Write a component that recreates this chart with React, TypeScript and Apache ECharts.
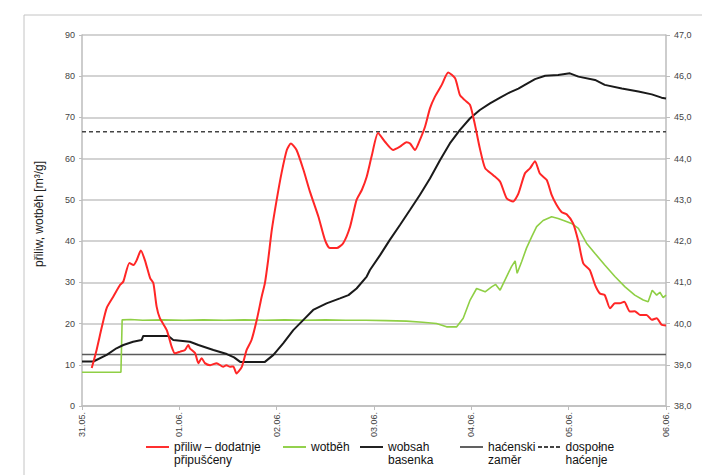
import React, { useEffect, useRef } from "react";
import * as echarts from "echarts";

// x values are hours from 31.05. 00:00 (0..144)
const dayLabels = ["31.05.", "01.06.", "02.06.", "03.06.", "04.06.", "05.06.", "06.06."];

const seriesNames = [
  "přiliw – dodatnje\npřipušćeny",
  "wotběh",
  "wobsah\nbasenka",
  "haćenski\nzaměr",
  "dospołne\nhaćenje",
];

const yAxisTitle = "přiliw, wotběh [m³/g]";

// left axis [m³/g]
const priliw: [number, number][] = [
  [2.4, 9.2], [3.6, 13.6], [4.9, 19.2], [6.1, 23.8], [7.7, 26.5], [9.4, 29.4], [10.2, 30.2],
  [11.7, 34.7], [12.7, 34.2], [13.5, 35.4], [14.5, 37.7], [15.5, 35.4], [16.8, 31], [17.6, 29.8],
  [18.4, 24.1], [19.2, 21.3], [20.9, 18.4], [22.1, 14.4], [22.9, 12.8], [24.2, 13.2], [25.4, 13.6],
  [26.2, 14.8], [26.6, 14], [27.9, 12.8], [28.7, 10.4], [29.5, 11.6], [30.3, 10.4], [31.6, 9.9],
  [33.2, 10.4], [34.8, 9.5], [35.6, 9.9], [36.5, 9.5], [37.3, 9.6], [38.1, 7.9], [39.4, 9.5],
  [40.6, 13.6], [41.8, 16], [43.1, 20.9], [44.3, 26.5], [45.1, 29.8], [45.9, 35.4], [46.8, 42.7],
  [48, 50], [49.2, 56.5], [50.5, 62.1], [51.5, 63.7], [52.9, 62.1], [54.6, 57.3], [56.2, 52],
  [58.3, 45.9], [59.9, 40.3], [61.1, 38.3], [62.8, 38.3], [64.4, 39.5], [66.1, 43.5], [67.7, 50],
  [69, 52.4], [70.2, 55.6], [71.4, 60.5], [73, 66.2], [74.7, 64.1], [76.7, 62.1], [78.4, 62.9],
  [80, 64], [80.9, 63.7], [82.1, 62.1], [83.3, 64.5], [84.6, 67.8], [85.8, 72.2], [87, 75],
  [88.7, 77.9], [90.3, 80.9], [92, 79.5], [93.2, 75.4], [94.4, 74.2], [95.7, 73], [96.9, 68.2],
  [98.1, 62.5], [99.4, 57.7], [101.4, 56], [103.1, 54.4], [104.7, 50.4], [106.3, 49.6],
  [107.6, 51.5], [109.2, 56.4], [110.5, 57.7], [111.7, 59.4], [112.9, 56.4], [114.6, 54.8],
  [115.8, 51.2], [117, 48.8], [118.3, 47], [119.5, 46.5], [121.1, 44.3], [122.4, 39.9],
  [123.6, 34.6], [125.2, 33], [126.5, 29.4], [127.7, 27.3], [128.9, 26.9], [130.2, 23.7],
  [131.4, 24.9], [132.6, 24.9], [133.7, 25.3], [135.1, 22.9], [136.3, 23], [137.6, 22.1],
  [139.2, 22.1], [140.5, 20.9], [141.7, 21.3], [142.9, 19.7], [144, 19.5],
];

// left axis [m³/g]
const wotbeh: [number, number][] = [
  [0, 8.2], [9.6, 8.2], [9.9, 20.9], [12, 21], [15, 20.8], [20, 20.9], [25, 20.8], [30, 20.9],
  [35, 20.8], [40, 20.9], [45, 20.8], [50, 20.9], [55, 20.8], [60, 20.9], [65, 20.8], [70, 20.8],
  [75, 20.7], [80, 20.6], [84, 20.3], [87.4, 20], [89.9, 19.2], [92.4, 19.2], [94, 21.3],
  [95.7, 25.7], [97.3, 28.5], [99.4, 27.7], [101, 28.9], [102, 29.5], [103.1, 28.1], [104.7, 31.4],
  [105.9, 33.8], [106.8, 35.2], [107.3, 32.2], [108.4, 35], [109.6, 38.3], [110.9, 41.1],
  [112.1, 43.5], [113.7, 45], [115.8, 45.9], [117.4, 45.5], [119.1, 44.9], [120.7, 44.3],
  [122.4, 43.1], [124.4, 39.5], [126.5, 37], [128.9, 34.2], [131.4, 31.4], [133.9, 28.9],
  [136.3, 26.9], [138.4, 25.7], [139.6, 25.3], [140.6, 28.1], [141.7, 26.9], [142.5, 27.6],
  [143.3, 26.3], [144, 26.9],
];

// right axis
const wobsah: [number, number][] = [
  [0, 39.08], [2.8, 39.08], [6.1, 39.24], [8.5, 39.4], [10.2, 39.48], [12.6, 39.56], [14.7, 39.6],
  [15.1, 39.7], [21.3, 39.7], [22.5, 39.6], [26.6, 39.56], [28.7, 39.48], [32.4, 39.36],
  [35.7, 39.26], [37.5, 39.18], [39, 39.07], [45.1, 39.07], [47.2, 39.24], [49.6, 39.52],
  [52.1, 39.84], [54.6, 40.09], [57, 40.33], [60.3, 40.49], [63.6, 40.61], [65.7, 40.69],
  [67.7, 40.85], [70.2, 41.14], [71, 41.3], [73.5, 41.66], [75.9, 42.03], [78.4, 42.39],
  [80.9, 42.76], [83.3, 43.12], [85.8, 43.52], [88.3, 43.97], [90.7, 44.37], [93.2, 44.7],
  [95.7, 44.98], [98.1, 45.18], [100.6, 45.34], [103.1, 45.48], [105.5, 45.61], [107.6, 45.7],
  [109.2, 45.79], [111.7, 45.93], [114.2, 46.01], [117.4, 46.03], [120.3, 46.07], [122.4, 45.99],
  [126.5, 45.91], [128.9, 45.79], [133.1, 45.7], [137.2, 45.63], [140.5, 45.56], [142.9, 45.48],
  [144, 45.46],
];

const hacenskiZamer: [number, number][] = [[0, 39.25], [144, 39.25]];
const dospolneHacenje: [number, number][] = [[0, 44.65], [144, 44.65]];

const legendLeft = [146, 283, 360, 460, 538];

const FONT = "Liberation Sans, Arial, sans-serif";

const SOLID_ICON = "path://M0,0h24v2h-24z";
const DASH_ICON = "path://M0,0h4v2h-4zM6,0h4v2h-4zM12,0h4v2h-4zM18,0h4v2h-4z";

export default function App() {
  const ref = useRef<HTMLDivElement>(null);

  useEffect(() => {
    if (!ref.current) return;
    const chart = echarts.init(ref.current, null, { renderer: "svg" });
    const colors = ["#ff2626", "#8fcf45", "#1a1a1a", "#5a5a5a", "#444444"];

    const legends = seriesNames.map((n, i) => {
      const twoLine = n.includes("\n");
      return {
        left: legendLeft[i],
        top: twoLine ? 427.5 : 440.5,
        padding: 0,
        itemWidth: 23,
        itemHeight: 2,
        icon: i === 4 ? DASH_ICON : SOLID_ICON,
        data: [n],
        selectedMode: false,
        itemStyle: { color: colors[i] },
        formatter: (name: string) => (name.includes("\n") ? "\n" + name : name),
        textStyle: {
          fontFamily: FONT,
          fontSize: 12,
          color: "#111",
          lineHeight: 13,
        },
      };
    });

    chart.setOption({
      animation: false,
      backgroundColor: "#ffffff",
      color: colors,
      textStyle: { fontFamily: FONT },
      graphic: [
        {
          type: "rect",
          shape: { x: 24, y: 15, width: 720, height: 520 },
          style: { fill: "none", stroke: "#c4c4c4", lineWidth: 1 },
          silent: true,
        },
        {
          type: "text",
          x: 39,
          y: 214,
          rotation: Math.PI / 2,
          style: {
            text: yAxisTitle,
            font: `12px ${FONT}`,
            fill: "#222",
            align: "center",
            verticalAlign: "middle",
          },
          silent: true,
        },
      ],
      legend: legends,
      grid: { left: 82, right: 36, top: 35, bottom: 69, containLabel: false },
      xAxis: {
        type: "value",
        min: 0,
        max: 144,
        interval: 24,
        axisLine: { show: true, lineStyle: { color: "#bdbdbd", width: 1.5 } },
        axisTick: { show: true, length: 4, lineStyle: { color: "#bdbdbd" } },
        splitLine: { show: false },
        axisLabel: {
          rotate: 90,
          fontSize: 9,
          color: "#444",
          margin: 6,
          formatter: (v: number) => dayLabels[Math.round(v / 24)] ?? "",
        },
      },
      yAxis: [
        {
          type: "value",
          min: 0,
          max: 90,
          interval: 10,
          axisLine: { show: true, lineStyle: { color: "#bdbdbd", width: 1.5 } },
          axisTick: { show: true, length: 3, lineStyle: { color: "#bdbdbd" } },
          splitLine: { show: true, lineStyle: { color: "#c4c4c4", width: 1.5 } },
          axisLabel: { fontSize: 9, color: "#444", margin: 7 },
        },
        {
          type: "value",
          min: 38,
          max: 47,
          interval: 1,
          position: "right",
          axisLine: { show: true, lineStyle: { color: "#bdbdbd", width: 1.5 } },
          axisTick: { show: true, length: 4, lineStyle: { color: "#bdbdbd" } },
          splitLine: { show: false },
          axisLabel: {
            fontSize: 9,
            color: "#444",
            margin: 8,
            formatter: (v: number) => v.toFixed(1).replace(".", ","),
          },
        },
      ],
      series: [
        {
          name: seriesNames[0],
          type: "line",
          yAxisIndex: 0,
          data: priliw,
          symbol: "none",
          smooth: 0.2,
          z: 6,
          lineStyle: { color: colors[0], width: 2 },
          itemStyle: { color: colors[0] },
        },
        {
          name: seriesNames[1],
          type: "line",
          yAxisIndex: 0,
          data: wotbeh,
          symbol: "none",
          z: 4,
          lineStyle: { color: colors[1], width: 1.6 },
          itemStyle: { color: colors[1] },
        },
        {
          name: seriesNames[2],
          type: "line",
          yAxisIndex: 1,
          data: wobsah,
          symbol: "none",
          z: 5,
          lineStyle: { color: colors[2], width: 2 },
          itemStyle: { color: colors[2] },
        },
        {
          name: seriesNames[3],
          type: "line",
          yAxisIndex: 1,
          data: hacenskiZamer,
          symbol: "none",
          z: 3,
          lineStyle: { color: colors[3], width: 1.6 },
          itemStyle: { color: colors[3] },
        },
        {
          name: seriesNames[4],
          type: "line",
          yAxisIndex: 1,
          data: dospolneHacenje,
          symbol: "none",
          z: 3,
          lineStyle: { color: colors[4], width: 1.5, type: [4, 3] },
          itemStyle: { color: colors[4] },
        },
      ],
    });
    return () => chart.dispose();
  }, []);

  return (
    <div
      ref={ref}
      style={{ position: "absolute", left: 0, top: 0, width: 702, height: 475 }}
    />
  );
}
